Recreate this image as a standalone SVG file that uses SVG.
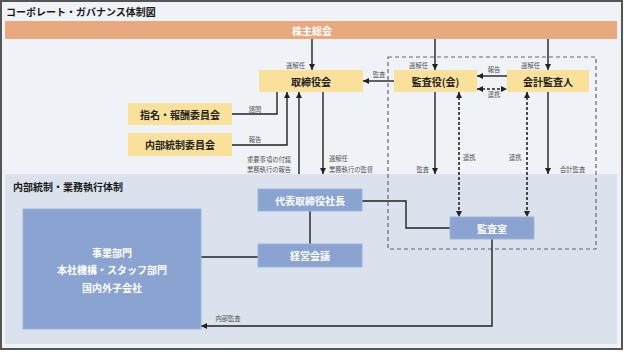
<svg xmlns="http://www.w3.org/2000/svg" width="624" height="352" viewBox="0 0 624 352">
<style>
text{font-family:"Noto Sans CJK JP","Noto Sans",sans-serif}
.title{font-size:10px;font-weight:bold;fill:#1a1a1a}
.yb{fill:#f9e19b}
.bb{fill:#8aa3d0;stroke:#9fb3da;stroke-width:1}
.bt{font-size:10px;font-weight:bold;fill:#222;text-anchor:middle;dominant-baseline:central}
.wt{font-size:10px;font-weight:bold;fill:#fff;text-anchor:middle;dominant-baseline:central}
.lb{font-size:6.3px;fill:#555}
.ln{fill:none;stroke:#222;stroke-width:1.4}
.dl{fill:none;stroke:#222;stroke-width:1.6;stroke-dasharray:3 2}
</style>
<defs>
<marker id="ah" viewBox="0 0 6 6" refX="6" refY="3" markerWidth="6" markerHeight="6" markerUnits="userSpaceOnUse" orient="auto-start-reverse">
<path d="M0,0 L6,3 L0,6 z" fill="#222"/>
</marker>
</defs>
<rect x="1" y="1" width="621" height="348" fill="#eff2f7" stroke="#555" stroke-width="2"/>
<text class="title" x="6" y="16">コーポレート・ガバナンス体制図</text>
<rect x="5" y="174" width="612" height="170" fill="#dbe2ee"/>
<text class="title" x="13" y="191">内部統制・業務執行体制</text>
<rect x="388" y="57" width="208" height="192" fill="none" stroke="#666" stroke-width="1.2" stroke-dasharray="4 3"/>

<g id="connectors">
<path class="ln" d="M312,39 V70" marker-end="url(#ah)"/>
<path class="ln" d="M435,39 V70" marker-end="url(#ah)"/>
<path class="ln" d="M548,39 V70" marker-end="url(#ah)"/>
<path class="ln" d="M394,81 H363" marker-end="url(#ah)"/>
<path class="ln" d="M507,76 H477" marker-end="url(#ah)"/>
<path class="dl" d="M477,89 H507" marker-start="url(#ah)" marker-end="url(#ah)"/>
<path class="ln" d="M232,114 H277 V92"/>
<path class="ln" d="M232,145 H287 V92" marker-end="url(#ah)"/>
<path class="ln" d="M299,174 V92" marker-end="url(#ah)"/>
<path class="ln" d="M323,92 V174" marker-end="url(#ah)"/>
<path class="ln" d="M435,92 V174" marker-end="url(#ah)"/>
<path class="ln" d="M548,92 V174" marker-end="url(#ah)"/>
<path class="dl" d="M459,92 V217" marker-start="url(#ah)" marker-end="url(#ah)"/>
<path class="dl" d="M527,92 V217" marker-start="url(#ah)" marker-end="url(#ah)"/>
<path class="ln" d="M362,201 H406 V228 H450"/>
<path class="ln" d="M310,211 V244"/>
<path class="ln" d="M201,257 H258"/>
<path class="ln" d="M492,239 V326 H201" marker-end="url(#ah)"/>
<text class="lb" x="305" y="68" text-anchor="end">選解任</text>
<text class="lb" x="428" y="68" text-anchor="end">選解任</text>
<text class="lb" x="540" y="68" text-anchor="end">選解任</text>
<text class="lb" x="379" y="77" text-anchor="middle">監査</text>
<text class="lb" x="494" y="72" text-anchor="middle">報告</text>
<text class="lb" x="494" y="97" text-anchor="middle">連携</text>
<text class="lb" x="255" y="112" text-anchor="middle">諮問</text>
<text class="lb" x="255" y="142" text-anchor="middle">報告</text>
<text class="lb" x="247" y="162">重要事項の付議</text>
<text class="lb" x="247" y="172">業務執行の報告</text>
<text class="lb" x="329" y="161">選解任</text>
<text class="lb" x="329" y="172">業務執行の監督</text>
<text class="lb" x="429" y="172" text-anchor="end">監査</text>
<text class="lb" x="560" y="172">会計監査</text>
<text class="lb" x="463" y="160">連携</text>
<text class="lb" x="509" y="160">連携</text>
<text class="lb" x="228" y="321" text-anchor="middle">内部監査</text>
</g>

<g id="kabunushi">
<rect x="5" y="21" width="612" height="18" fill="#e9a97e"/>
<text class="wt" x="312" y="30">株主総会</text>
</g>
<g id="torishimariyakukai">
<rect class="yb" x="259" y="70" width="104" height="22"/>
<text class="bt" x="311" y="81">取締役会</text>
</g>
<g id="kansayaku">
<rect class="yb" x="394" y="70" width="83" height="22"/>
<text class="bt" x="435.5" y="81">監査役(会)</text>
</g>
<g id="kaikeikansanin">
<rect class="yb" x="507" y="70" width="82" height="22"/>
<text class="bt" x="548" y="81">会計監査人</text>
</g>
<g id="shimei">
<rect class="yb" x="128" y="103" width="104" height="22"/>
<text class="bt" x="180" y="114">指名・報酬委員会</text>
</g>
<g id="naibutousei">
<rect class="yb" x="128" y="133" width="104" height="23"/>
<text class="bt" x="180" y="144.5">内部統制委員会</text>
</g>
<g id="daihyo">
<rect class="bb" x="258" y="189" width="104" height="22"/>
<text class="wt" x="310" y="200">代表取締役社長</text>
</g>
<g id="keiei">
<rect class="bb" x="258" y="244" width="104" height="23"/>
<text class="wt" x="310" y="255.5">経営会議</text>
</g>
<g id="jigyo">
<rect class="bb" x="23" y="209" width="178" height="120"/>
<text class="wt" x="112" y="252">事業部門</text>
<text class="wt" x="112" y="269">本社機構・スタッフ部門</text>
<text class="wt" x="112" y="287">国内外子会社</text>
</g>
<g id="kansashitsu">
<rect class="bb" x="450" y="217" width="84" height="22"/>
<text class="wt" x="492" y="228">監査室</text>
</g>
</svg>
